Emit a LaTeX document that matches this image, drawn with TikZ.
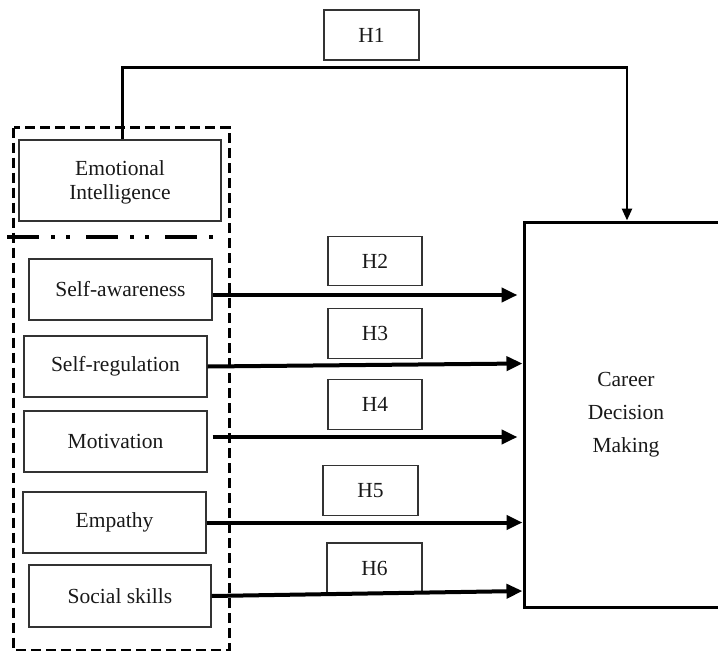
\documentclass[tikz,border=0pt]{standalone}
\usepackage{fontspec}
\setmainfont{Liberation Serif}
\usetikzlibrary{arrows.meta}
\begin{document}
\begin{tikzpicture}[x=1pt,y=-1pt,
  thinbox/.style={draw=black!80, line width=1.3pt, fill=white, inner sep=0pt, font=\fontsize{21.5}{24}\selectfont, text=black!90},
  varbox/.style={thinbox, minimum width=183pt, minimum height=61pt},
  hbox/.style={thinbox, minimum width=94pt, minimum height=49.5pt},
  bigarrow/.style={line width=4pt, -{Triangle[length=16pt,width=14pt]}},
]
\clip (0,0) rectangle (718,651);
% outer dashed box
\draw[line width=3pt, dash pattern=on 10pt off 5pt] (13.5,127.5) rectangle (229,650);
% dash-dot separator
\draw[line width=4pt, dash pattern=on 32pt off 12pt on 4pt off 11pt on 4pt off 16pt] (7,237) coordinate (sepl) -- (213,237) coordinate (sepr);
% nodes
\node[hbox, minimum width=95pt, minimum height=50pt] (h1) at (371.5,35) {H1};
\node[thinbox, minimum width=202pt, minimum height=81pt, align=center, text depth=0pt] (ei) at (120,180.5) {Emotional\\Intelligence};
\node[varbox] (sa) at (120.5,289.5) {Self-awareness};
\node[varbox] (sr) at (115.5,366.5) {Self-regulation};
\node[varbox] (mot) at (115.5,441.5) {Motivation};
\node[varbox] (emp) at (114.5,522.5) {Empathy};
\node[varbox, minimum width=182pt, minimum height=62pt] (ss) at (120,596) {Social skills};
\node[hbox] (h2) at (375,261) {H2};
\node[hbox] (h3) at (375,333.5) {H3};
\node[hbox] (h4) at (375,404.5) {H4};
\node[hbox, minimum width=95pt] (h5) at (370.5,490.5) {H5};
\node[hbox, minimum width=95pt, minimum height=50pt] (h6) at (374.5,568) {H6};
\node[draw=black, line width=3pt, minimum width=204pt, minimum height=385pt, inner sep=0pt, align=center,
      font=\fontsize{21.5}{33}\selectfont, text=black!90] (cdm) at (626,414.5) {Career\\Decision\\Making};
% H1 connector
\coordinate (c1) at (122.5,67.5);
\coordinate (c2) at (627,67.5);
\draw[line width=2.6pt, -{Triangle[length=12pt,width=10pt]}] (ei.north -| c1) -- (c1) -- (c2) -- (c2 |- cdm.north);
% arrows
\draw[bigarrow] ([yshift=-5.5pt]sa.east) -- ([xshift=-5pt,yshift=-5.5pt]cdm.west |- sa.east);
\draw[bigarrow] (sr.east) -- ([yshift=3pt]cdm.west |- sr.east);
\draw[bigarrow] ([xshift=5pt,yshift=4.5pt]mot.east) -- ([xshift=-5pt,yshift=4.5pt]cdm.west |- mot.east);
\draw[bigarrow] (emp.east) -- (cdm.west |- emp.east);
\draw[bigarrow] (ss.east) -- ([yshift=5pt]cdm.west |- ss.east);
\end{tikzpicture}
\end{document}
